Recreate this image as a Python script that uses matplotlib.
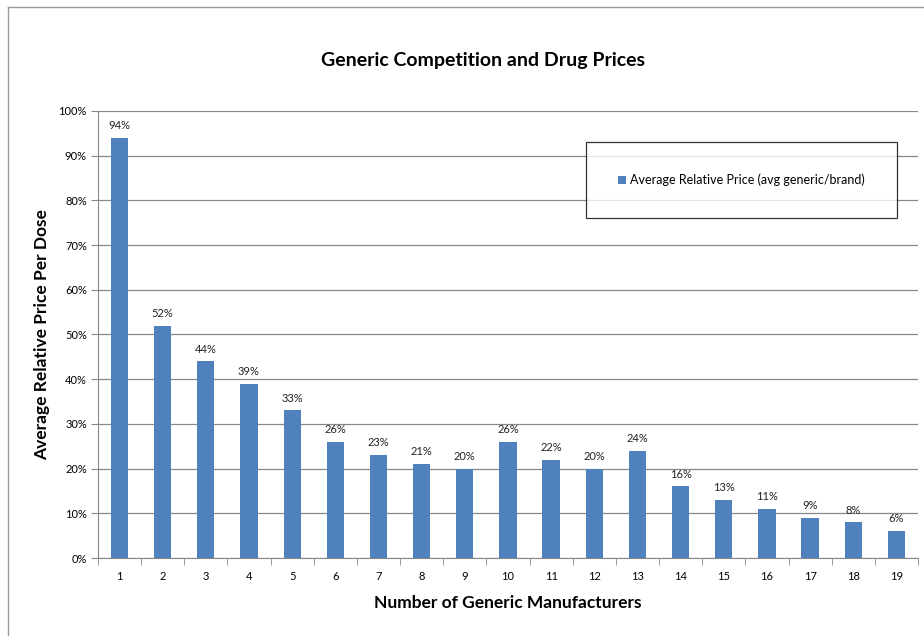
import matplotlib.pyplot as plt
from matplotlib.lines import Line2D

manufacturers = [str(i) for i in range(1, 20)]
rel_price = [94, 52, 44, 39, 33, 26, 23, 21, 20, 26, 22, 20, 24, 16, 13, 11, 9, 8, 6]
series_name = 'Average Relative Price (avg generic/brand)'

plt.rcParams['font.family'] = ['Lato', 'DejaVu Sans']

fig = plt.figure(figsize=(9.24, 6.36), dpi=100)
ax = fig.add_axes([0.106, 0.1226, 0.8875, 0.703])

x = list(range(len(manufacturers)))
bars = ax.bar(x, rel_price, width=0.4, color='#4F81BD', label=series_name, zorder=3)
for xi, v in zip(x, rel_price):
    ax.text(xi, v + 1.5, f'{v}%', ha='center', va='bottom', fontsize=8, color='#222222')

ax.set_xlim(-0.5, len(x) - 0.5)
ax.set_ylim(0, 100)
ax.set_yticks(range(0, 101, 10))
ax.set_yticklabels([f'{t}%' for t in range(0, 101, 10)], fontsize=8)
ax.set_xticks(x)
ax.set_xticklabels(manufacturers, fontsize=8)
ax.set_xticks([i - 0.5 for i in range(len(x) + 1)], minor=True)
ax.tick_params(axis='x', which='major', length=0, pad=9)
ax.tick_params(axis='x', which='minor', length=5, color='#888888')
ax.tick_params(axis='y', length=5, color='#888888', pad=3)
ax.yaxis.grid(True, color='#888888', linewidth=0.9, zorder=0)

for side in ['top', 'right']:
    ax.spines[side].set_visible(False)
for side in ['left', 'bottom']:
    ax.spines[side].set_color('#888888')

ax.set_title('Generic Competition and Drug Prices', fontsize=14, fontweight='bold',
             pad=32, x=0.4695)
ax.set_ylabel('Average Relative Price Per Dose', fontsize=12.5, fontweight='bold', labelpad=6)
ax.set_xlabel('Number of Generic Manufacturers', fontsize=12.5, fontweight='bold', labelpad=10)

leg = ax.legend(loc='upper right', bbox_to_anchor=(0.974, 0.9306), fontsize=9,
                frameon=True, fancybox=False, borderpad=2.55, handlelength=0.7,
                handleheight=0.7, handletextpad=0.3, borderaxespad=0)
leg.get_frame().set_edgecolor('black')
leg.get_frame().set_linewidth(0.9)

fig.add_artist(Line2D([8 / 924, 1], [1 - 7 / 636] * 2, color='#999999', lw=1))
fig.add_artist(Line2D([8 / 924] * 2, [0, 1 - 7 / 636], color='#999999', lw=1))

fig.savefig('out.png', dpi=100)
